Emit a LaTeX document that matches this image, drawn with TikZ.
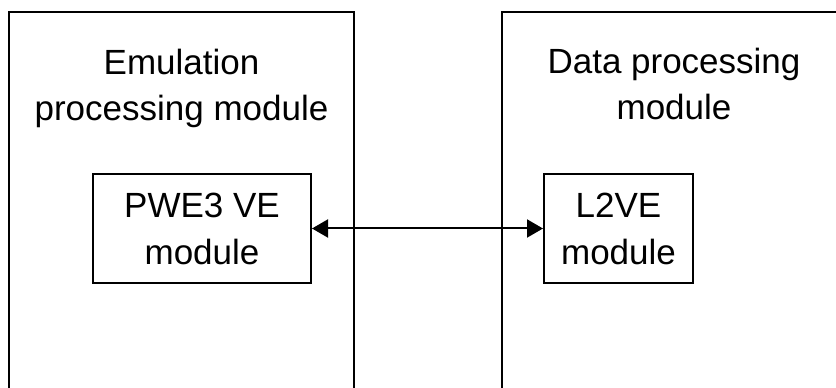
\documentclass[tikz,border=0pt]{standalone}
\usepackage{fontspec}
\setmainfont{Liberation Sans}
\usetikzlibrary{arrows.meta}
\begin{document}
\begin{tikzpicture}[x=1pt,y=1pt,
  txt/.style={font={\fontsize{35}{46}\selectfont},align=center,inner sep=0pt},
  modbox/.style={draw,line width=2pt,inner sep=0pt,font={\fontsize{35}{47}\selectfont},align=center,minimum height=109pt},
  outline/.style={draw,line width=2pt},
  conn/.style={line width=2pt,{Triangle[length=16pt,width=18pt]}-{Triangle[length=16pt,width=18pt]}}]
\useasboundingbox (0,0) rectangle (836,388);
\draw[outline] (9,-5) -- (9,376) -- (354,376) -- (354,-5);
\draw[outline] (502,-5) -- (502,376) -- (845,376);
\node[txt] (emu) at (181.5,299.5) {Emulation\\processing module};
\node[txt] (dat) at (674,304) {Data processing\\module};
\node[modbox,minimum width=218pt] (pwe) at (202,159.5) {PWE3 VE\\module};
\node[modbox,minimum width=149pt] (l2ve) at (618.5,159.5) {L2VE\\module};
\draw[conn] (pwe.east) -- (l2ve.west);
\end{tikzpicture}
\end{document}
